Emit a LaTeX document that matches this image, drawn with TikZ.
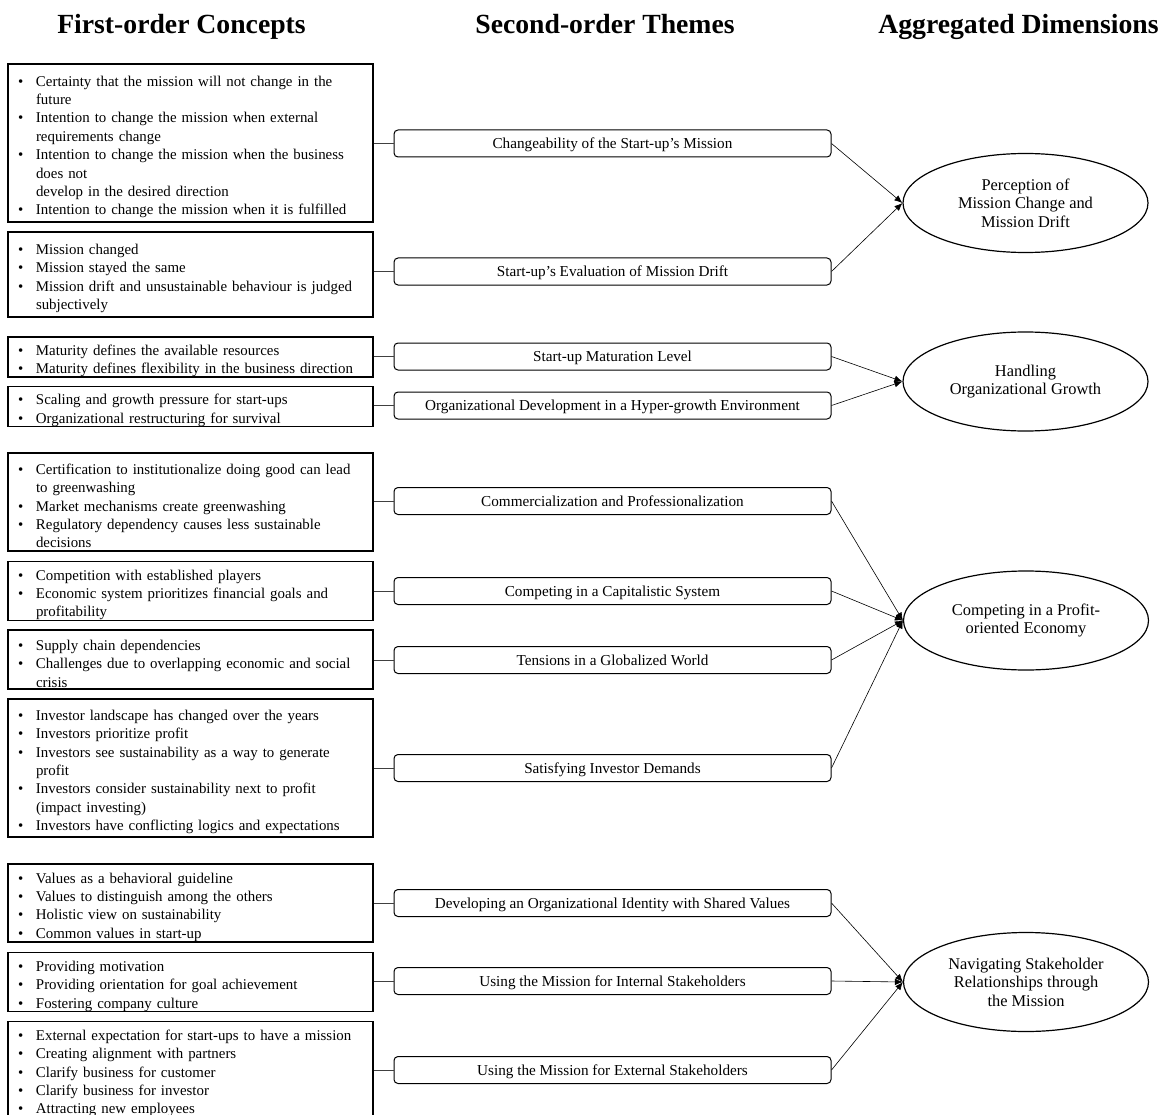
\documentclass[tikz,border=0pt]{standalone}
\usepackage{fontspec}
\setmainfont{Liberation Serif}
\usetikzlibrary{shapes.geometric,arrows.meta,positioning}
\newcommand{\bul}[1]{\par\noindent\hangindent=18pt\hangafter=1\makebox[18pt][l]{\textbullet}#1\par}

\begin{document}
\begin{tikzpicture}[
    x=1pt, y=-1pt,
    %
    heading/.style={anchor=base, font=\fontsize{27.7}{30}\selectfont\bfseries},
    concept/.style={draw=black, rectangle, line width=1.1pt, text width=345pt,
                 inner xsep=10pt, inner ysep=0pt, align=left,
                 font=\fontsize{14.9}{18.4}\selectfont},
    theme/.style={draw=black, rectangle, rounded corners=4pt, line width=1pt,
                 minimum width=437pt, minimum height=27pt, inner sep=0pt,
                 text height=13.4pt, text depth=3.3pt,
                 font=\fontsize{15.2}{18.4}\selectfont},
    dimension/.style={draw=black, ellipse, line width=1.2pt, minimum width=245pt,
                 minimum height=99pt, inner sep=0pt, align=center,
                 font=\fontsize{16.4}{18.4}\selectfont},
    %
    link/.style={line width=0.9pt, draw=black!75},
    pre/.style={-{Latex[length=8pt,width=6.5pt]}, line width=0.6pt}
    ]

    \useasboundingbox (0,0) rectangle (1161,1115);
    \clip (0,0) rectangle (1161,1115);

    \node[heading] (hc) at (181.5,34) {First-order Concepts};
    \node[heading] (ht) at (605,34)   {Second-order Themes};
    \node[heading] (hd) at (1018.5,34) {Aggregated Dimensions};
    %
    \node[concept, minimum height=158pt] (c1) at (190.5,143) {%
        \bul{Certainty that the mission will not change in the\newline future}
        \bul{Intention to change the mission when external\newline requirements change}
        \bul{Intention to change the mission when the business\newline does not\newline develop in the desired direction}
        \bul{Intention to change the mission when it is fulfilled}};
    \node[concept, minimum height=85pt] (c2) at (190.5,274.5) {%
        \bul{Mission changed}
        \bul{Mission stayed the same}
        \bul{Mission drift and unsustainable behaviour is judged\newline subjectively}};
    \node[concept, minimum height=40pt] (c3) at (190.5,357) {%
        \bul{Maturity defines the available resources}
        \bul{Maturity defines flexibility in the business direction}};
    \node[concept, minimum height=39pt] (c4) at (190.5,406.5) {%
        \bul{Scaling and growth pressure for start-ups}
        \bul{Organizational restructuring for survival}};
    \node[concept, minimum height=98pt] (c5) at (190.5,502) {%
        \bul{Certification to institutionalize doing good can lead\newline to greenwashing}
        \bul{Market mechanisms create greenwashing}
        \bul{Regulatory dependency causes less sustainable\newline decisions}};
    \node[concept, minimum height=58pt] (c6) at (190.5,591) {%
        \bul{Competition with established players}
        \bul{Economic system prioritizes financial goals and\newline profitability}};
    \node[concept, minimum height=59pt] (c7) at (190.5,659.5) {%
        \bul{Supply chain dependencies}
        \bul{Challenges due to overlapping economic and social\newline crisis}};
    \node[concept, minimum height=138pt] (c8) at (190.5,768) {%
        \bul{Investor landscape has changed over the years}
        \bul{Investors prioritize profit}
        \bul{Investors see sustainability as a way to generate\newline profit}
        \bul{Investors consider sustainability next to profit\newline (impact investing)}
        \bul{Investors have conflicting logics and expectations}};
    \node[concept, minimum height=78pt] (c9) at (190.5,903) {%
        \bul{Values as a behavioral guideline}
        \bul{Values to distinguish among the others}
        \bul{Holistic view on sustainability}
        \bul{Common values in start-up}};
    \node[concept, minimum height=58pt] (c10) at (190.5,982) {%
        \bul{Providing motivation}
        \bul{Providing orientation for goal achievement}
        \bul{Fostering company culture}};
    \node[concept, minimum height=95pt] (c11) at (190.5,1069.5) {%
        \bul{External expectation for start-ups to have a mission}
        \bul{Creating alignment with partners}
        \bul{Clarify business for customer}
        \bul{Clarify business for investor}
        \bul{Attracting new employees}};
    %
    \node[theme] (t1)  at (612.5,143.5) {Changeability of the Start-up’s Mission};
    \node[theme] (t2)  at (612.5,271.5) {Start-up’s Evaluation of Mission Drift};
    \node[theme] (t3)  at (612.5,356.5) {Start-up Maturation Level};
    \node[theme] (t4)  at (612.5,405.5) {Organizational Development in a Hyper-growth Environment};
    \node[theme] (t5)  at (612.5,501)   {Commercialization and Professionalization};
    \node[theme] (t6)  at (612.5,591)   {Competing in a Capitalistic System};
    \node[theme] (t7)  at (612.5,660)   {Tensions in a Globalized World};
    \node[theme] (t8)  at (612.5,768)   {Satisfying Investor Demands};
    \node[theme] (t9)  at (612.5,903)   {Developing an Organizational Identity with Shared Values};
    \node[theme] (t10) at (612.5,981)   {Using the Mission for Internal Stakeholders};
    \node[theme] (t11) at (612.5,1070)  {Using the Mission for External Stakeholders};
    %
    \node[dimension] (d1) at (1025.5,203)   {Perception of\\Mission Change and\\Mission Drift};
    \node[dimension] (d2) at (1025.5,381.5) {Handling\\Organizational Growth};
    \node[dimension] (d3) at (1026,620.5)   {Competing in a Profit-\\oriented Economy};
    \node[dimension] (d4) at (1026,982)     {Navigating Stakeholder\\Relationships through\\the Mission};
    %
    \draw[link] (c1.east |- t1.west) -- (t1.west);
    \draw[link] (c2.east |- t2.west) -- (t2.west);
    \draw[link] (c3.east |- t3.west) -- (t3.west);
    \draw[link] (c4.east |- t4.west) -- (t4.west);
    \draw[link] (c5.east |- t5.west) -- (t5.west);
    \draw[link] (c6.east |- t6.west) -- (t6.west);
    \draw[link] (c7.east |- t7.west) -- (t7.west);
    \draw[link] (c8.east |- t8.west) -- (t8.west);
    \draw[link] (c9.east |- t9.west) -- (t9.west);
    \draw[link] (c10.east |- t10.west) -- (t10.west);
    \draw[link] (c11.east |- t11.west) -- (t11.west);
    %
    \draw[pre] (t1.east) -- (d1.west);
    \draw[pre] (t2.east) -- (d1.west);
    \draw[pre] (t3.east) -- (d2.west);
    \draw[pre] (t4.east) -- (d2.west);
    \draw[pre] (t5.east) -- (d3.west);
    \draw[pre] (t6.east) -- (d3.west);
    \draw[pre] (t7.east) -- (d3.west);
    \draw[pre] (t8.east) -- (d3.west);
    \draw[pre] (t9.east) -- (d4.west);
    \draw[pre] (t10.east) -- (d4.west);
    \draw[pre] (t11.east) -- (d4.west);

\end{tikzpicture}
\end{document}
